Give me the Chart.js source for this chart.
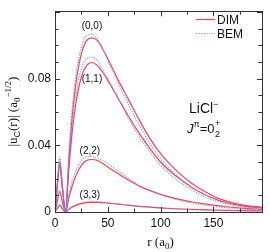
<!DOCTYPE html>
<html><head><meta charset="utf-8">
<script src="https://cdn.jsdelivr.net/npm/chart.js@4.4.1/dist/chart.umd.min.js"></script>
<style>html,body{margin:0;padding:0;background:#fff}#wrap{width:269px;height:252px;position:relative}</style>
</head><body><div id="wrap"><canvas id="c" width="269" height="252"></canvas></div>
<script>
const r = [0, 2, 4.5, 7, 10, 13, 16, 20, 25, 30, 35, 40, 45, 50, 60, 70, 80, 90, 100, 110, 120, 130, 140, 150, 160, 170, 180, 196];
const dim00 = [0, 0.015, 0.030, 0.015, 0, 0.030, 0.055, 0.078, 0.095, 0.103, 0.1045, 0.103, 0.098, 0.092, 0.079, 0.067, 0.055, 0.044, 0.035, 0.028, 0.022, 0.017, 0.013, 0.0095, 0.007, 0.0052, 0.0040, 0.0028];
const bem00 = [0, 0.016, 0.033, 0.016, 0, 0.034, 0.060, 0.083, 0.099, 0.106, 0.1067, 0.104, 0.098, 0.091, 0.077, 0.064, 0.052, 0.041, 0.032, 0.025, 0.019, 0.0145, 0.011, 0.008, 0.006, 0.0045, 0.0033, 0.0022];
const dim11 = [0, 0.014, 0.028, 0.014, 0, 0.025, 0.046, 0.066, 0.081, 0.088, 0.0897, 0.088, 0.084, 0.079, 0.068, 0.057, 0.047, 0.038, 0.030, 0.024, 0.019, 0.0145, 0.011, 0.0082, 0.006, 0.0045, 0.0034, 0.0024];
const bem11 = [0, 0.015, 0.031, 0.015, 0, 0.029, 0.051, 0.071, 0.086, 0.092, 0.0929, 0.091, 0.086, 0.080, 0.068, 0.056, 0.045, 0.036, 0.028, 0.022, 0.017, 0.013, 0.0095, 0.007, 0.0052, 0.0038, 0.0028, 0.0019];
const dim22 = [0, 0.006, 0.012, 0.006, 0, 0.008, 0.015, 0.022, 0.028, 0.031, 0.0315, 0.031, 0.0292, 0.027, 0.023, 0.019, 0.0155, 0.0128, 0.0106, 0.0088, 0.0073, 0.006, 0.005, 0.0041, 0.0033, 0.0027, 0.0022, 0.0016];
const bem22 = [0, 0.0065, 0.013, 0.0065, 0, 0.010, 0.018, 0.025, 0.031, 0.0332, 0.0334, 0.0325, 0.031, 0.029, 0.0245, 0.020, 0.016, 0.013, 0.0105, 0.0085, 0.0068, 0.0054, 0.0043, 0.0034, 0.0027, 0.0021, 0.0017, 0.0012];
const dim33 = [0, 0.002, 0.004, 0.002, 0, 0.0015, 0.0028, 0.004, 0.005, 0.0056, 0.0058, 0.0058, 0.0056, 0.0053, 0.0047, 0.004, 0.0034, 0.0029, 0.0025, 0.0021, 0.0018, 0.0016, 0.0014, 0.0012, 0.001, 0.0009, 0.0008, 0.0007];
const bem33 = [0, 0.0022, 0.0045, 0.0022, 0, 0.0018, 0.0032, 0.0045, 0.0056, 0.0062, 0.0064, 0.0063, 0.006, 0.0056, 0.0049, 0.0041, 0.0034, 0.0028, 0.0023, 0.0019, 0.0016, 0.0013, 0.0011, 0.0009, 0.0008, 0.0007, 0.0006, 0.0005];
const channelLabels = ["(0,0)", "(1,1)", "(2,2)", "(3,3)"];
const labelPos = [[35, 0.1115], [35, 0.0795], [33, 0.0365], [33, 0.0103]];
const xTickLabels = [0, 50, 100, 150];
const yTickLabels = [0, 0.04, 0.08];

const RED = 'rgba(255,50,50,0.92)';
const BLUE = 'rgba(110,135,255,0.85)';
function pts(v){ return r.map((x,i)=>({x:x,y:v[i]})); }
function ds(v, blue){
  return {data: pts(v), borderColor: blue?BLUE:RED, borderWidth: blue?1.2:1.2,
    borderDash: blue?[1.2,1.4]:[], pointRadius:0, fill:false, cubicInterpolationMode:'monotone'};
}
const datasets = [ds(bem00,true),ds(bem11,true),ds(bem22,true),ds(bem33,true),
                  ds(dim00,false),ds(dim11,false),ds(dim22,false),ds(dim33,false)];

function drawRich(ctx, parts, x, y){
  let cx = x;
  for (const p of parts){ ctx.font = p[1]; ctx.fillText(p[0], cx, y + (p[2]||0)); cx += ctx.measureText(p[0]).width; }
  return cx - x;
}
function richWidth(ctx, parts){ let w=0; for(const p of parts){ctx.font=p[1]; w+=ctx.measureText(p[0]).width;} return w; }

const deco = {
  id:'deco',
  afterDraw(chart){
    const ctx = chart.ctx, a = chart.chartArea, xs = chart.scales.x, ys = chart.scales.y;
    ctx.save();
    ctx.strokeStyle = '#333'; ctx.lineWidth = 1;
    ctx.strokeRect(Math.round(a.left)+0.5, Math.round(a.top)+0.5, Math.round(a.right-a.left), Math.round(a.bottom-a.top));
    ctx.beginPath();
    for (let v=0; v<=195; v+=25){
      const px = Math.round(xs.getPixelForValue(v))+0.5; const L = (v%50===0)?5:3.5;
      ctx.moveTo(px, a.bottom); ctx.lineTo(px, a.bottom-L);
      ctx.moveTo(px, a.top); ctx.lineTo(px, a.top+L);
    }
    for (let k=0; k<=12; k++){
      const v = k*0.01; const py = Math.round(ys.getPixelForValue(v))+0.5; const L = (k%4===0)?5:3.5;
      ctx.moveTo(a.left, py); ctx.lineTo(a.left+L, py);
      ctx.moveTo(a.right, py); ctx.lineTo(a.right-L, py);
    }
    ctx.stroke();
    ctx.fillStyle = '#111'; ctx.textAlign='center'; ctx.textBaseline='middle';
    ctx.font = '10px "Liberation Sans", Arial, sans-serif';
    channelLabels.forEach((t,i)=>{ ctx.fillText(t, xs.getPixelForValue(labelPos[i][0]), ys.getPixelForValue(labelPos[i][1])); });
    ctx.textAlign='left'; ctx.textBaseline='alphabetic';
    ctx.lineWidth = 1.2; ctx.strokeStyle = RED; ctx.setLineDash([]);
    ctx.beginPath(); ctx.moveTo(196,19.5); ctx.lineTo(215,19.5); ctx.stroke();
    ctx.lineWidth = 1.2; ctx.strokeStyle = BLUE; ctx.setLineDash([1.2,1.4]);
    ctx.beginPath(); ctx.moveTo(196,33.5); ctx.lineTo(215,33.5); ctx.stroke();
    ctx.setLineDash([]);
    ctx.font = '12px "Liberation Sans", Arial, sans-serif';
    ctx.fillText('DIM', 217, 24); ctx.fillText('BEM', 217, 38);
    const sf = '"Liberation Sans", Arial, sans-serif';
    drawRich(ctx, [['LiCl','14px '+sf,0],['\u2212','9px '+sf,-6]], 189, 113);
    drawRich(ctx, [['J','italic 13px '+sf,0],['\u03c0','9px '+sf,-6],['=0','13px '+sf,0]], 187, 133);
    const x0 = 187 + richWidth(ctx, [['J','italic 13px '+sf],['\u03c0','9px '+sf],['=0','13px '+sf]]);
    ctx.font = '9px '+sf; ctx.fillText('2', x0+0.5, 137); ctx.fillText('+', x0+0.5, 126);
    const ser = '"Liberation Serif", "Times New Roman", serif';
    const xt = [['r (a','13px '+ser,0],['0','9px '+ser,3],[')','13px '+ser,0]];
    const xw = richWidth(ctx, xt);
    ctx.fillStyle = '#111';
    drawRich(ctx, xt, (a.left+a.right)/2 - xw/2 + 2, 246);
    const yt = [['|u','13px '+ser,0],['C','9px '+sf,3],['(r)| (a','13px '+ser,0],['0','9px '+ser,3],['\u22121/2','9px '+ser,-6],[')','13px '+ser,0]];
    const yw = richWidth(ctx, yt);
    ctx.translate(17, (a.top+a.bottom)/2); ctx.rotate(-Math.PI/2);
    drawRich(ctx, yt, -yw/2, 0);
    ctx.restore();
  }
};

new Chart(document.getElementById('c'), {
  type:'line',
  data:{datasets},
  options:{
    responsive:false, animation:false, maintainAspectRatio:false,
    layout:{padding:{top:4,right:7,left:0,bottom:0}},
    plugins:{legend:{display:false}, tooltip:{enabled:false}},
    scales:{
      x:{type:'linear', min:0, max:196,
        afterFit(s){ s.height = 40; },
        afterBuildTicks(s){ s.ticks = xTickLabels.map(v=>({value:v})); },
        grid:{display:false, drawTicks:false}, border:{display:false},
        ticks:{padding:4, color:'#111', font:{family:'"Liberation Sans", Arial, sans-serif', size:12}, maxRotation:0, autoSkip:false}},
      y:{type:'linear', min:0, max:0.1205,
        afterFit(s){ s.width = 55; },
        afterBuildTicks(s){ s.ticks = yTickLabels.map(v=>({value:v})); },
        grid:{display:false, drawTicks:false}, border:{display:false},
        ticks:{padding:4, color:'#111', font:{family:'"Liberation Sans", Arial, sans-serif', size:12}, callback:(v)=> v===0?'0':String(v)}}
    }
  },
  plugins:[deco]
});
</script></body></html>
